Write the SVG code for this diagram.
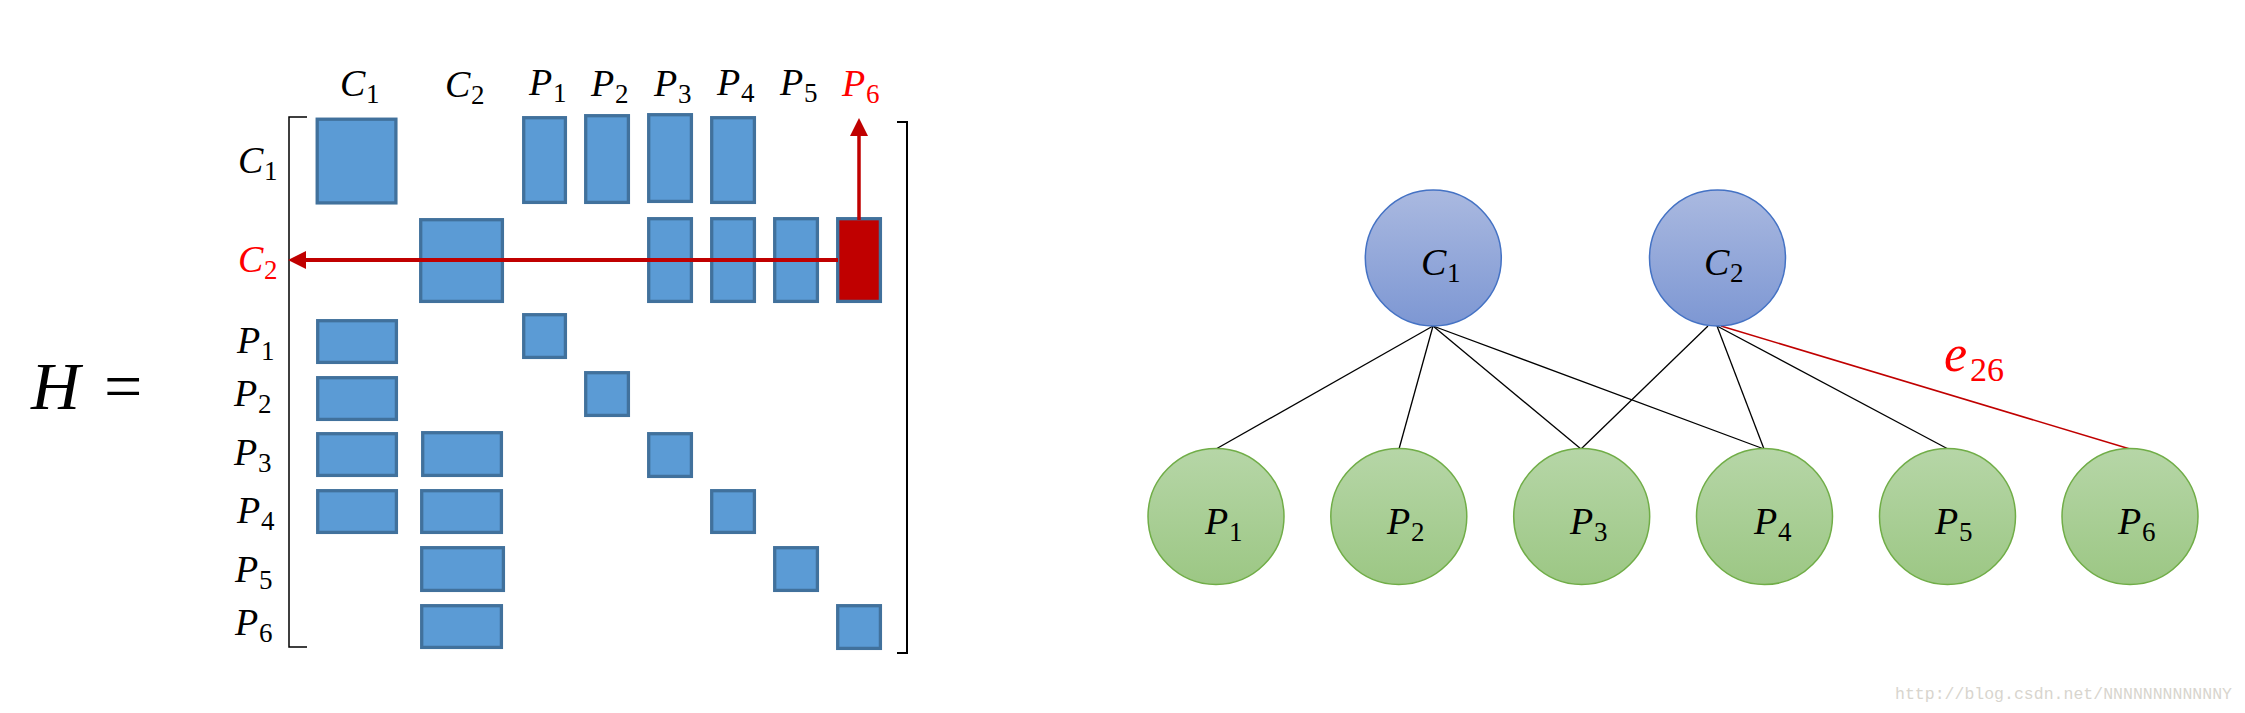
<svg xmlns="http://www.w3.org/2000/svg" width="2245" height="713" viewBox="0 0 2245 713">
<defs>
<style>
.lbl{font-family:"Liberation Serif","DejaVu Serif",serif;fill:#000}
.it{font-style:italic;font-size:38px}
.sb{font-size:27px}
.red{fill:#FF0000}
.cell{fill:#5B9BD5;stroke:#41719C;stroke-width:3.3}
.hot{fill:#C00000;stroke:#41719C;stroke-width:3.3}
.br{fill:none;stroke:#000;stroke-width:1.5}
.cn{fill:url(#gb);stroke:#4472C4;stroke-width:1.5}
.pn{fill:url(#gg);stroke:#70AD47;stroke-width:1.5}
.edge{stroke:#000;stroke-width:1.3;fill:none}
.edgeR{stroke:#C00000;stroke-width:1.5;fill:none}
</style>
<linearGradient id="gb" x1="0" y1="0" x2="0" y2="1">
<stop offset="0" stop-color="#AAB9E0"/>
<stop offset="1" stop-color="#7D97D3"/>
</linearGradient>
<linearGradient id="gg" x1="0" y1="0" x2="0" y2="1">
<stop offset="0" stop-color="#B6D6A7"/>
<stop offset="1" stop-color="#9CC784"/>
</linearGradient>
</defs>
<rect width="2245" height="713" fill="#fff"/>

<g id="matrix-title">
<text class="lbl" y="409"><tspan x="31" font-style="italic" font-size="68">H</tspan><tspan x="104" font-size="68">=</tspan></text>
</g>

<g id="brackets">
<path class="br" d="M307,117 H289 V647 H307"/>
<path class="br" d="M897,122 H907 V653 H897" style="stroke-width:2"/>
</g>

<g id="col-labels">
<text class="lbl"><tspan class="it" x="340" y="96">C</tspan><tspan class="sb" x="366" y="103">1</tspan></text>
<text class="lbl"><tspan class="it" x="445" y="97">C</tspan><tspan class="sb" x="471" y="104">2</tspan></text>
<text class="lbl"><tspan class="it" x="529" y="95">P</tspan><tspan class="sb" x="553" y="102">1</tspan></text>
<text class="lbl"><tspan class="it" x="591" y="96">P</tspan><tspan class="sb" x="615" y="103">2</tspan></text>
<text class="lbl"><tspan class="it" x="654" y="96">P</tspan><tspan class="sb" x="678" y="103">3</tspan></text>
<text class="lbl"><tspan class="it" x="717" y="95">P</tspan><tspan class="sb" x="741" y="102">4</tspan></text>
<text class="lbl"><tspan class="it" x="780" y="95">P</tspan><tspan class="sb" x="804" y="102">5</tspan></text>
<text class="lbl red"><tspan class="it" x="842" y="96">P</tspan><tspan class="sb" x="866" y="103">6</tspan></text>
</g>

<g id="row-labels">
<text class="lbl"><tspan class="it" x="238" y="173">C</tspan><tspan class="sb" x="264" y="180">1</tspan></text>
<text class="lbl red"><tspan class="it" x="238" y="272">C</tspan><tspan class="sb" x="264" y="279">2</tspan></text>
<text class="lbl"><tspan class="it" x="237" y="353">P</tspan><tspan class="sb" x="261" y="360">1</tspan></text>
<text class="lbl"><tspan class="it" x="234" y="406">P</tspan><tspan class="sb" x="258" y="413">2</tspan></text>
<text class="lbl"><tspan class="it" x="234" y="465">P</tspan><tspan class="sb" x="258" y="472">3</tspan></text>
<text class="lbl"><tspan class="it" x="237" y="523">P</tspan><tspan class="sb" x="261" y="530">4</tspan></text>
<text class="lbl"><tspan class="it" x="235" y="582">P</tspan><tspan class="sb" x="259" y="589">5</tspan></text>
<text class="lbl"><tspan class="it" x="235" y="635">P</tspan><tspan class="sb" x="259" y="642">6</tspan></text>
</g>

<g id="cells">
<rect class="cell" x="317.2" y="119.2" width="78.7" height="83.7"/>
<rect class="cell" x="523.7" y="117.7" width="41.7" height="84.7"/>
<rect class="cell" x="585.7" y="115.7" width="42.7" height="86.7"/>
<rect class="cell" x="648.7" y="114.7" width="42.7" height="86.7"/>
<rect class="cell" x="711.7" y="117.7" width="42.7" height="84.7"/>

<rect class="cell" x="420.7" y="219.7" width="81.7" height="81.7"/>
<rect class="cell" x="648.7" y="218.7" width="42.7" height="82.7"/>
<rect class="cell" x="711.7" y="218.7" width="42.7" height="82.7"/>
<rect class="cell" x="774.7" y="218.7" width="42.7" height="82.7"/>
<rect class="hot" x="837.7" y="218.7" width="42.7" height="82.7"/>

<rect class="cell" x="317.7" y="320.7" width="78.7" height="41.7"/>
<rect class="cell" x="523.7" y="314.7" width="41.7" height="42.7"/>

<rect class="cell" x="317.7" y="377.7" width="78.7" height="41.7"/>
<rect class="cell" x="585.7" y="372.7" width="42.7" height="42.7"/>

<rect class="cell" x="317.7" y="433.7" width="78.7" height="41.7"/>
<rect class="cell" x="422.7" y="432.7" width="78.7" height="42.7"/>
<rect class="cell" x="648.7" y="433.7" width="42.7" height="42.7"/>

<rect class="cell" x="317.7" y="490.7" width="78.7" height="41.7"/>
<rect class="cell" x="421.7" y="490.7" width="79.7" height="41.7"/>
<rect class="cell" x="711.7" y="490.7" width="42.7" height="41.7"/>

<rect class="cell" x="421.7" y="547.7" width="81.7" height="42.7"/>
<rect class="cell" x="774.7" y="547.7" width="42.7" height="42.7"/>

<rect class="cell" x="421.7" y="605.7" width="79.7" height="41.7"/>
<rect class="cell" x="837.7" y="605.7" width="42.7" height="42.7"/>
</g>

<g id="matrix-arrows">
<line x1="838" y1="260" x2="304" y2="260" stroke="#C00000" stroke-width="4"/>
<polygon points="288,260 306,251 306,269" fill="#C00000"/>
<line x1="859" y1="220" x2="859" y2="134" stroke="#C00000" stroke-width="3.5"/>
<polygon points="859,118 850,136 868,136" fill="#C00000"/>
</g>

<g id="connectors">
<line class="edge" x1="1433" y1="326" x2="1216" y2="449"/>
<line class="edge" x1="1433" y1="326" x2="1399" y2="449"/>
<line class="edge" x1="1433" y1="326" x2="1581" y2="449"/>
<line class="edge" x1="1433" y1="326" x2="1764" y2="449"/>
<line class="edge" x1="1708" y1="326" x2="1581" y2="449"/>
<line class="edge" x1="1717" y1="326" x2="1764" y2="449"/>
<line class="edge" x1="1717" y1="326" x2="1948" y2="449"/>
<line class="edgeR" x1="1721" y1="326" x2="2130" y2="449"/>
</g>

<g id="node-C1">
<circle class="cn" cx="1433.3" cy="258" r="68"/>
<text class="lbl"><tspan class="it" x="1421" y="275">C</tspan><tspan class="sb" x="1447" y="282">1</tspan></text>
</g>
<g id="node-C2">
<circle class="cn" cx="1717.5" cy="258" r="68"/>
<text class="lbl"><tspan class="it" x="1704" y="275">C</tspan><tspan class="sb" x="1730" y="282">2</tspan></text>
</g>
<g id="node-P1">
<circle class="pn" cx="1216" cy="516.5" r="68"/>
<text class="lbl"><tspan class="it" x="1205" y="534">P</tspan><tspan class="sb" x="1229" y="541">1</tspan></text>
</g>
<g id="node-P2">
<circle class="pn" cx="1398.8" cy="516.5" r="68"/>
<text class="lbl"><tspan class="it" x="1387" y="534">P</tspan><tspan class="sb" x="1411" y="541">2</tspan></text>
</g>
<g id="node-P3">
<circle class="pn" cx="1581.7" cy="516.5" r="68"/>
<text class="lbl"><tspan class="it" x="1570" y="534">P</tspan><tspan class="sb" x="1594" y="541">3</tspan></text>
</g>
<g id="node-P4">
<circle class="pn" cx="1764.5" cy="516.5" r="68"/>
<text class="lbl"><tspan class="it" x="1754" y="534">P</tspan><tspan class="sb" x="1778" y="541">4</tspan></text>
</g>
<g id="node-P5">
<circle class="pn" cx="1947.5" cy="516.5" r="68"/>
<text class="lbl"><tspan class="it" x="1935" y="534">P</tspan><tspan class="sb" x="1959" y="541">5</tspan></text>
</g>
<g id="node-P6">
<circle class="pn" cx="2130" cy="516.5" r="68"/>
<text class="lbl"><tspan class="it" x="2118" y="534">P</tspan><tspan class="sb" x="2142" y="541">6</tspan></text>
</g>

<g id="edge-label">
<text class="lbl red"><tspan x="1944" y="371" font-style="italic" font-size="52">e</tspan><tspan x="1970" y="381" font-size="34">26</tspan></text>
</g>

<text x="1895" y="699" font-family="Liberation Mono, monospace" font-size="17" fill="#D8D5CE" textLength="337" lengthAdjust="spacingAndGlyphs">http://blog.csdn.net/NNNNNNNNNNNNY</text>
</svg>
